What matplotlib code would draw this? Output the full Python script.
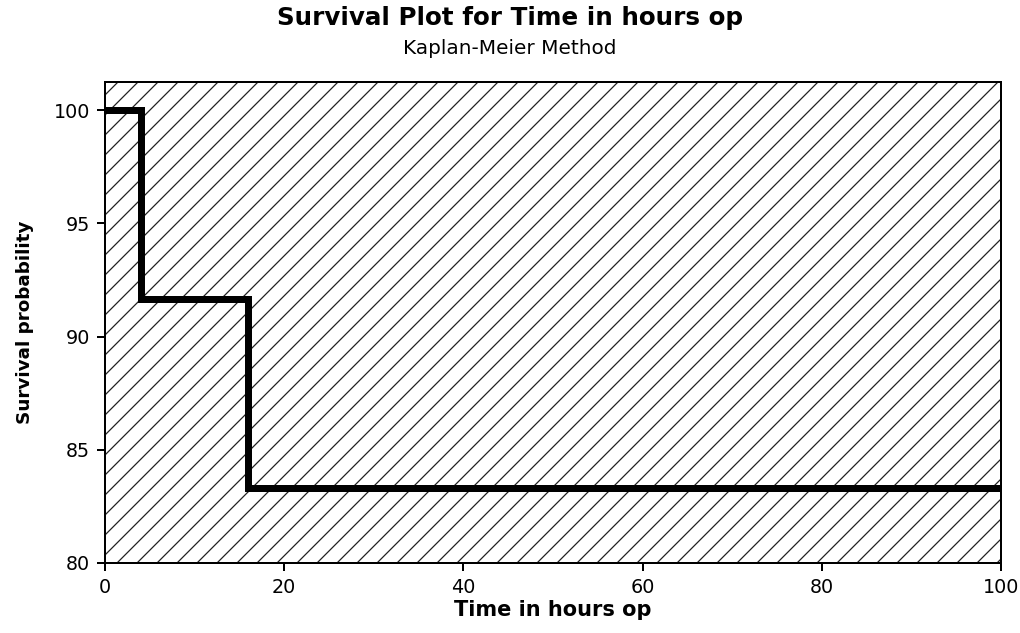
import matplotlib
matplotlib.use("Agg")
import matplotlib.pyplot as plt
from matplotlib.patches import Rectangle

times = [0, 4, 16, 100]
survival = [100.0, 91.67, 83.33, 83.33]
x_ticks = [0, 20, 40, 60, 80, 100]
y_ticks = [80, 85, 90, 95, 100]

plt.rcParams['font.family'] = ['DejaVu Sans']
plt.rcParams['hatch.linewidth'] = 0.75

fig = plt.figure(figsize=(8.5, 5.275), dpi=120)
ax = fig.add_axes([0.1029, 0.1106, 0.8785, 0.7599])

ax.add_patch(Rectangle((0, 0), 1, 1, transform=ax.transAxes, hatch='//',
                       fill=False, edgecolor='#222222', lw=0, zorder=0))

ax.step(times, survival, where='post', color='black', lw=4.2,
        solid_joinstyle='miter', zorder=3)

ax.set_xlim(0, 100)
ax.set_ylim(80, 101.24)
ax.set_xticks(x_ticks)
ax.set_yticks(y_ticks)
ax.tick_params(direction='out', length=5, width=1.2, labelsize=11.5, pad=4)
for s in ax.spines.values():
    s.set_linewidth(1.2)

ax.set_xlabel('Time in hours op', fontsize=12.5, fontweight='bold', labelpad=2)
ax.set_ylabel('Survival probability', fontsize=11, fontweight='bold', labelpad=12)

fig.text(0.5, 0.971, 'Survival Plot for Time in hours op', ha='center', va='center',
         fontsize=14.8, fontweight='bold')
fig.text(0.5, 0.924, 'Kaplan-Meier Method', ha='center', va='center', fontsize=12)

fig.savefig('out.png', dpi=120)
